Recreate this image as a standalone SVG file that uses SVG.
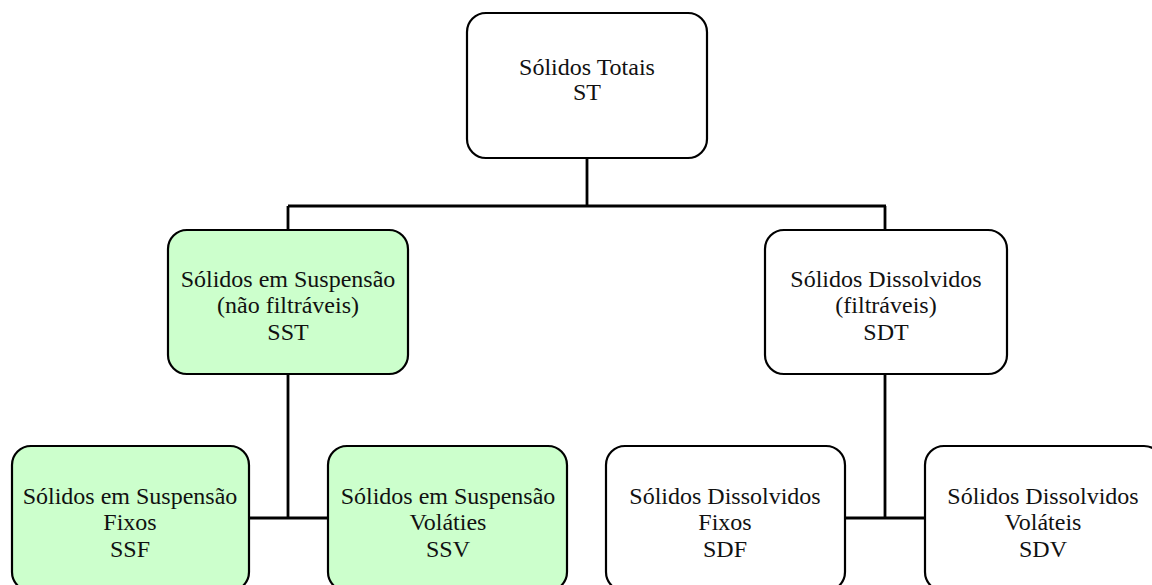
<svg xmlns="http://www.w3.org/2000/svg" width="1152" height="585" viewBox="0 0 1152 585">
<style>
.box{stroke:#000;stroke-width:2.2;}
.w{fill:#fff;}
.g{fill:#ccffcc;}
.t{font-family:"Liberation Serif","Times New Roman",serif;font-size:24px;fill:#111;text-anchor:middle;}
.c{stroke:#000;stroke-width:2.8;fill:none;}
</style>
<rect width="1152" height="585" fill="#fff"/>
<g id="connectors">
<path class="c" d="M587,158 V206 M288,206 H886 M288,206 V230 M885,206 V230"/>
<path class="c" d="M288,374 V518 M249,518 H328"/>
<path class="c" d="M885,374 V518 M845,518 H925"/>
</g>
<g id="ST">
<rect class="box w" x="467" y="13" width="240" height="145" rx="19"/>
<text class="t" x="587" y="75">Sólidos Totais</text>
<text class="t" x="587" y="100">ST</text>
</g>
<g id="SST">
<rect class="box g" x="168" y="230" width="240" height="144" rx="19"/>
<text class="t" x="288" y="287">Sólidos em Suspensão</text>
<text class="t" x="288" y="313">(não filtráveis)</text>
<text class="t" x="288" y="340">SST</text>
</g>
<g id="SDT">
<rect class="box w" x="765" y="230" width="242" height="144" rx="19"/>
<text class="t" x="886" y="287">Sólidos Dissolvidos</text>
<text class="t" x="886" y="313">(filtráveis)</text>
<text class="t" x="886" y="340">SDT</text>
</g>
<g id="SSF">
<rect class="box g" x="12" y="446" width="237" height="145" rx="19"/>
<text class="t" x="130" y="504">Sólidos em Suspensão</text>
<text class="t" x="130" y="530">Fixos</text>
<text class="t" x="130" y="557">SSF</text>
</g>
<g id="SSV">
<rect class="box g" x="328" y="446" width="239" height="145" rx="19"/>
<text class="t" x="448" y="504">Sólidos em Suspensão</text>
<text class="t" x="448" y="530">Voláties</text>
<text class="t" x="448" y="557">SSV</text>
</g>
<g id="SDF">
<rect class="box w" x="606" y="446" width="239" height="145" rx="19"/>
<text class="t" x="725" y="504">Sólidos Dissolvidos</text>
<text class="t" x="725" y="530">Fixos</text>
<text class="t" x="725" y="557">SDF</text>
</g>
<g id="SDV">
<rect class="box w" x="925" y="446" width="238" height="145" rx="19"/>
<text class="t" x="1043" y="504">Sólidos Dissolvidos</text>
<text class="t" x="1043" y="530">Voláteis</text>
<text class="t" x="1043" y="557">SDV</text>
</g>
</svg>
